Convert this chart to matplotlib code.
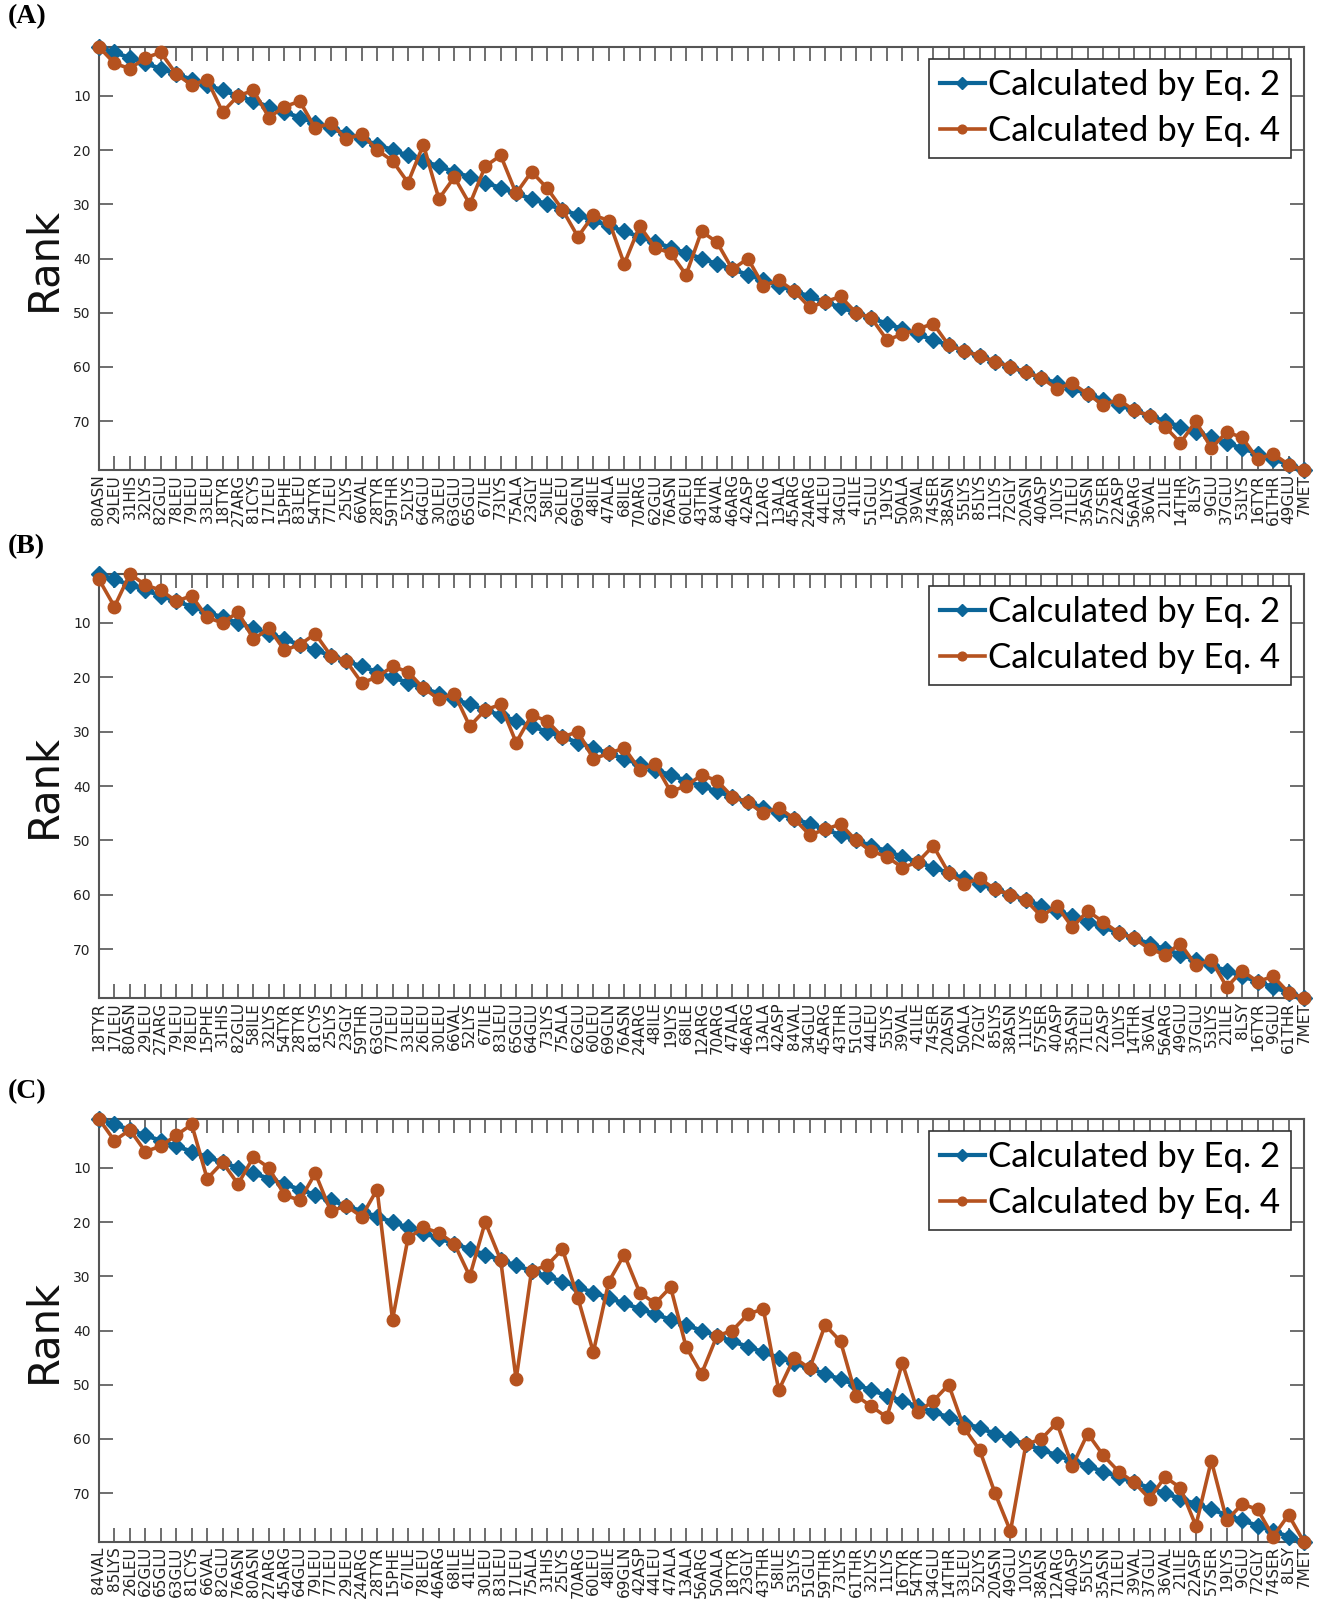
import matplotlib.pyplot as plt

# residue order (ranked by Eq. 2) for each data set
labels_a = ["80ASN", "29LEU", "31HIS", "32LYS", "82GLU", "78LEU", "79LEU", "33LEU", "18TYR", "27ARG",
            "81CYS", "17LEU", "15PHE", "83LEU", "54TYR", "77LEU", "25LYS", "66VAL", "28TYR", "59THR",
            "52LYS", "64GLU", "30LEU", "63GLU", "65GLU", "67ILE", "73LYS", "75ALA", "23GLY", "58ILE",
            "26LEU", "69GLN", "48ILE", "47ALA", "68ILE", "70ARG", "62GLU", "76ASN", "60LEU", "43THR",
            "84VAL", "46ARG", "42ASP", "12ARG", "13ALA", "45ARG", "24ARG", "44LEU", "34GLU", "41ILE",
            "51GLU", "19LYS", "50ALA", "39VAL", "74SER", "38ASN", "55LYS", "85LYS", "11LYS", "72GLY",
            "20ASN", "40ASP", "10LYS", "71LEU", "35ASN", "57SER", "22ASP", "56ARG", "36VAL", "21ILE",
            "14THR", "8LSY", "9GLU", "37GLU", "53LYS", "16TYR", "61THR", "49GLU", "7MET"]
labels_b = ["18TYR", "17LEU", "80ASN", "29LEU", "27ARG", "79LEU", "78LEU", "15PHE", "31HIS", "82GLU",
            "58ILE", "32LYS", "54TYR", "28TYR", "81CYS", "25LYS", "23GLY", "59THR", "63GLU", "77LEU",
            "33LEU", "26LEU", "30LEU", "66VAL", "52LYS", "67ILE", "83LEU", "65GLU", "64GLU", "73LYS",
            "75ALA", "62GLU", "60LEU", "69GLN", "76ASN", "24ARG", "48ILE", "19LYS", "68ILE", "12ARG",
            "70ARG", "47ALA", "46ARG", "13ALA", "42ASP", "84VAL", "34GLU", "45ARG", "43THR", "51GLU",
            "44LEU", "55LYS", "39VAL", "41ILE", "74SER", "20ASN", "50ALA", "72GLY", "85LYS", "38ASN",
            "11LYS", "57SER", "40ASP", "35ASN", "71LEU", "22ASP", "10LYS", "14THR", "36VAL", "56ARG",
            "49GLU", "37GLU", "53LYS", "21ILE", "8LSY", "16TYR", "9GLU", "61THR", "7MET"]
labels_c = ["84VAL", "85LYS", "26LEU", "62GLU", "65GLU", "63GLU", "81CYS", "66VAL", "82GLU", "76ASN",
            "80ASN", "27ARG", "45ARG", "64GLU", "79LEU", "77LEU", "29LEU", "24ARG", "28TYR", "15PHE",
            "67ILE", "78LEU", "46ARG", "68ILE", "41ILE", "30LEU", "83LEU", "17LEU", "75ALA", "31HIS",
            "25LYS", "70ARG", "60LEU", "48ILE", "69GLN", "42ASP", "44LEU", "47ALA", "13ALA", "56ARG",
            "50ALA", "18TYR", "23GLY", "43THR", "58ILE", "53LYS", "51GLU", "59THR", "73LYS", "61THR",
            "32LYS", "11LYS", "16TYR", "54TYR", "34GLU", "14THR", "33LEU", "52LYS", "20ASN", "49GLU",
            "10LYS", "38ASN", "12ARG", "40ASP", "55LYS", "35ASN", "71LEU", "39VAL", "37GLU", "36VAL",
            "21ILE", "22ASP", "57SER", "19LYS", "9GLU", "72GLY", "74SER", "8LSY", "7MET"]

# rank by Eq. 2 is the sort order itself
eq2_rank = list(range(1, 80))

# rank by Eq. 4
eq4_a = [1, 4, 5, 3, 2, 6, 8, 7, 13, 10, 9, 14, 12, 11, 16, 15, 18, 17, 20, 22,
         26, 19, 29, 25, 30, 23, 21, 28, 24, 27, 31, 36, 32, 33, 41, 34, 38, 39, 43, 35,
         37, 42, 40, 45, 44, 46, 49, 48, 47, 50, 51, 55, 54, 53, 52, 56, 57, 58, 59, 60,
         61, 62, 64, 63, 65, 67, 66, 68, 69, 71, 74, 70, 75, 72, 73, 77, 76, 78, 79]
eq4_b = [2, 7, 1, 3, 4, 6, 5, 9, 10, 8, 13, 11, 15, 14, 12, 16, 17, 21, 20, 18,
         19, 22, 24, 23, 29, 26, 25, 32, 27, 28, 31, 30, 35, 34, 33, 37, 36, 41, 40, 38,
         39, 42, 43, 45, 44, 46, 49, 48, 47, 50, 52, 53, 55, 54, 51, 56, 58, 57, 59, 60,
         61, 64, 62, 66, 63, 65, 67, 68, 70, 71, 69, 73, 72, 77, 74, 76, 75, 78, 79]
eq4_c = [1, 5, 3, 7, 6, 4, 2, 12, 9, 13, 8, 10, 15, 16, 11, 18, 17, 19, 14, 38,
         23, 21, 22, 24, 30, 20, 27, 49, 29, 28, 25, 34, 44, 31, 26, 33, 35, 32, 43, 48,
         41, 40, 37, 36, 51, 45, 47, 39, 42, 52, 54, 56, 46, 55, 53, 50, 58, 62, 70, 77,
         61, 60, 57, 65, 59, 63, 66, 68, 71, 67, 69, 76, 64, 75, 72, 73, 78, 74, 79]

panel_tags = ["(A)", "(B)", "(C)"]

blue = '#0b6598'
orange = '#b5521f'
spine_col = '#555555'

fig = plt.figure(figsize=(13.17, 16), dpi=100)
W, H = 1317, 1600

# axes boxes in pixels: (top, bottom)
boxes = [(47, 470), (574, 998), (1119, 1542)]
tag_y = [4, 534, 1079]
left_px, right_px = 99, 1304

for tag, labels, eq4, (top, bot), ty in zip(panel_tags, [labels_a, labels_b, labels_c],
                                            [eq4_a, eq4_b, eq4_c], boxes, tag_y):
    ax = fig.add_axes([left_px / W, 1 - bot / H, (right_px - left_px) / W, (bot - top) / H])
    ax.plot(eq2_rank, eq2_rank, color=blue, lw=3, marker='D', ms=8.5,
            label='Calculated by Eq. 2', clip_on=False, zorder=3)
    ax.plot(eq2_rank, eq4, color=orange, lw=2.6, marker='o', ms=9,
            label='Calculated by Eq. 4', clip_on=False, zorder=4)

    ax.set_xlim(1, 79)
    ax.set_ylim(79, 1)
    ax.set_xticks(eq2_rank)
    ax.set_xticklabels(labels, rotation=90, fontsize=11, color='#222222')
    ax.set_yticks([10, 20, 30, 40, 50, 60, 70])
    ax.tick_params(axis='x', direction='in', top=True, length=10, width=1.2,
                   color=spine_col, pad=3)
    ax.tick_params(axis='y', direction='in', right=True, length=10, width=1.2,
                   color=spine_col, labelsize=10, labelcolor='#222222', pad=6)
    for sp in ax.spines.values():
        sp.set_color(spine_col)
        sp.set_linewidth(1.5)

    leg = ax.legend(loc='upper right', bbox_to_anchor=(0.989, 0.972), borderaxespad=0,
                    prop={'family': 'Lato', 'size': 25}, handlelength=1.3,
                    handletextpad=0.1, borderpad=0.3, labelspacing=0.4,
                    fancybox=False, framealpha=1, markerscale=0.7)
    leg.get_frame().set_edgecolor('#333333')
    leg.get_frame().set_linewidth(1.2)

    fig.text(43 / W, 1 - (top + bot) / 2 / H, 'Rank', rotation=90, fontsize=30,
             ha='center', va='center', color='#111111')
    fig.text(8 / W, 1 - ty / H, tag, fontsize=20, fontweight='bold',
             family='Liberation Serif', ha='left', va='top')

fig.savefig('out.png', dpi=100)
